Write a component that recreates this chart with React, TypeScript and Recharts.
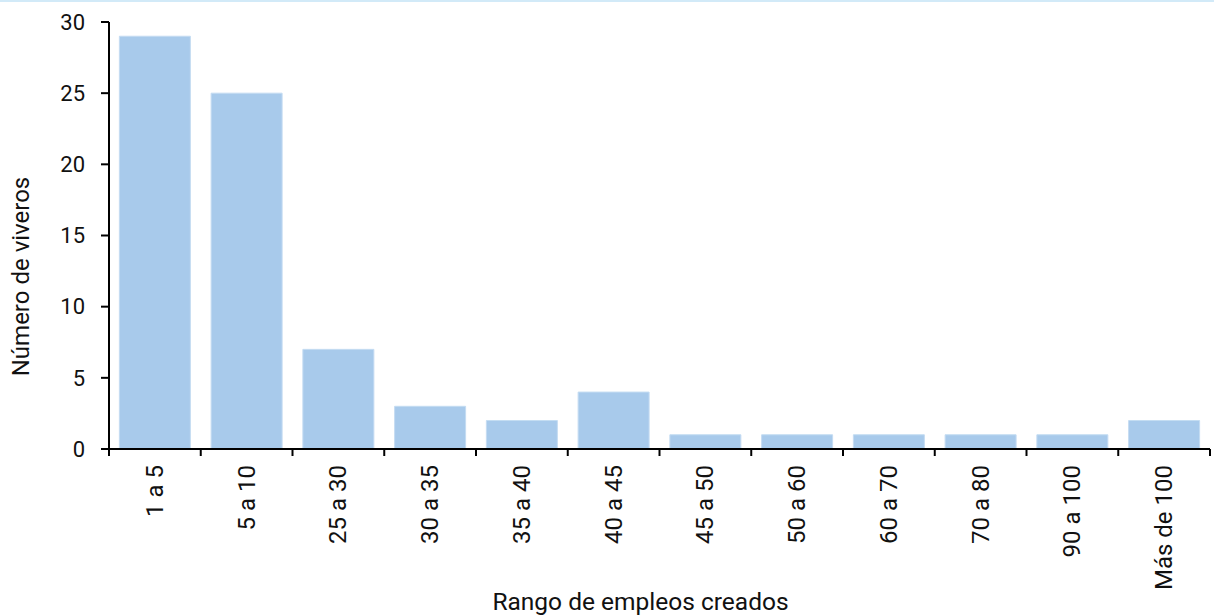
import React from "react";
import { BarChart, Bar, XAxis, YAxis } from "recharts";

const categories = ["1 a 5", "5 a 10", "25 a 30", "30 a 35", "35 a 40", "40 a 45", "45 a 50", "50 a 60", "60 a 70", "70 a 80", "90 a 100", "Más de 100"];
const viveros = [29, 25, 7, 3, 2, 4, 1, 1, 1, 1, 1, 2];
const yTicks = [0, 5, 10, 15, 20, 25, 30];

const data = categories.map((c, i) => ({ cat: c, value: viveros[i] }));

const FONT = "Roboto, 'Liberation Sans', Arial, sans-serif";
const TICK_MARGIN = 16;
const TICK_LEN = 7;

const XTick = (props: any) => {
  const { x, y, payload, index, width, visibleTicksCount } = props;
  const bw = width / visibleTicksCount;
  const axisY = y - TICK_MARGIN;
  const left = x - bw / 2;
  const right = x + bw / 2;
  const isLast = index === visibleTicksCount - 1;
  return (
    <g>
      <line x1={left} x2={left} y1={axisY} y2={axisY + TICK_LEN} stroke="#000" strokeWidth={2} />
      {isLast && <line x1={right} x2={right} y1={axisY} y2={axisY + TICK_LEN} stroke="#000" strokeWidth={2} />}
      <text
        x={x}
        y={y}
        transform={`rotate(-90, ${x}, ${y})`}
        textAnchor="end"
        dominantBaseline="central"
        fontFamily={FONT}
        fontSize={24}
        fill="#111"
      >
        {payload.value}
      </text>
    </g>
  );
};

const YTitle = (props: any) => {
  const vb = props.viewBox || {};
  const x = vb.x + 21;
  const y = vb.y + vb.height / 2 + 41;
  return (
    <text
      x={x}
      y={y}
      transform={`rotate(-90, ${x}, ${y})`}
      textAnchor="middle"
      dominantBaseline="central"
      fontFamily={FONT}
      fontSize={24}
      fill="#111"
    >
      Número de viveros
    </text>
  );
};

const XTitle = (props: any) => {
  const vb = props.viewBox || {};
  const x = vb.x + vb.width / 2 - 19;
  const y = vb.y + vb.height - 5;
  return (
    <text x={x} y={y} textAnchor="middle" fontFamily={FONT} fontSize={24.5} fill="#111">
      Rango de empleos creados
    </text>
  );
};

export default function App() {
  return (
    <div style={{ position: "absolute", left: 0, top: 0, width: 1214, height: 615, background: "#fff" }}>
      <div style={{ position: "absolute", left: 0, top: 0, width: 1214, height: 2, background: "#d2eaf8" }} />
      <BarChart
        width={1214}
        height={615}
        data={data}
        margin={{ top: 22, right: 4, bottom: 0, left: 0 }}
        barCategoryGap="11.3%"
      >
        <XAxis
          dataKey="cat"
          interval={0}
          tickLine={false}
          tickSize={0}
          tickMargin={TICK_MARGIN}
          axisLine={{ stroke: "#000", strokeWidth: 2 }}
          tick={<XTick />}
          height={166}
          label={<XTitle />}
        />
        <YAxis
          domain={[0, 30]}
          ticks={yTicks}
          width={109}
          tickSize={8}
          tickMargin={16}
          axisLine={{ stroke: "#000", strokeWidth: 2 }}
          tickLine={{ stroke: "#000", strokeWidth: 2 }}
          tick={{ fontFamily: FONT, fontSize: 22, fill: "#111" }}
          label={<YTitle />}
        />
        <Bar dataKey="value" fill="#a8caeb" stroke="#c4dcf2" strokeWidth={1} isAnimationActive={false} />
      </BarChart>
    </div>
  );
}
